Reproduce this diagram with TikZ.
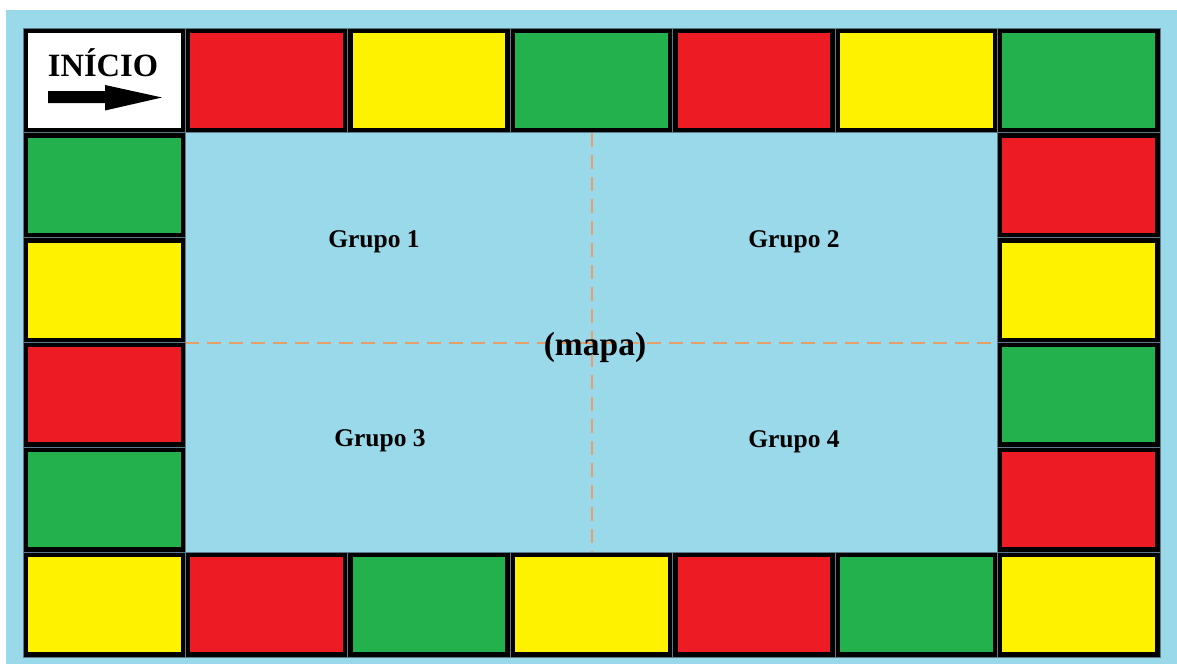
\documentclass[tikz,border=0pt]{standalone}
\usepackage{fontspec}
\setmainfont{Liberation Serif}
\definecolor{bgblue}{RGB}{153,217,234}
\definecolor{cred}{RGB}{237,28,36}
\definecolor{cyellow}{RGB}{255,242,0}
\definecolor{cgreen}{RGB}{34,177,76}
\definecolor{gridline}{RGB}{92,122,138}
\definecolor{dashorange}{RGB}{228,160,104}
\tikzset{
  cell/.style={draw=black, line width=4.5pt, minimum width=157.2pt, minimum height=99.6pt, inner sep=0pt, outer sep=0pt},
  gridbox/.style={draw=gridline, line width=0.9pt},
  guide/.style={draw=dashorange, line width=1.2pt, dash pattern=on 14pt off 8pt},
  grp/.style={font=\fontsize{25.5}{30}\selectfont\bfseries, anchor=base, inner sep=0pt},
}
\begin{document}
\begin{tikzpicture}[x=1pt,y=-1pt]
\useasboundingbox (0,0) rectangle (1177,664);
\fill[white] (0,0) rectangle (1177,664);
\fill[bgblue] (6,10) rectangle (1177,664);
% dashed guides in the map area
\coordinate (vtop) at (592,132.8);
\coordinate (vbot) at (592,552.2);
\coordinate (hl) at (185.4,343);
\coordinate (hr) at (997.6,343);
\draw[guide] (vtop) -- (vbot);
\draw[guide] (hl) -- (hr);
% cells
\foreach \c/\r/\col/\nm in {
  0/0/white/s0, 1/0/cred/s1, 2/0/cyellow/s2, 3/0/cgreen/s3, 4/0/cred/s4, 5/0/cyellow/s5, 6/0/cgreen/s6,
  6/1/cred/s7, 6/2/cyellow/s8, 6/3/cgreen/s9, 6/4/cred/s10, 6/5/cyellow/s11,
  5/5/cgreen/s12, 4/5/cred/s13, 3/5/cyellow/s14, 2/5/cgreen/s15, 1/5/cred/s16, 0/5/cyellow/s17,
  0/4/cgreen/s18, 0/3/cred/s19, 0/2/cyellow/s20, 0/1/cgreen/s21}
{
  \node[cell, fill=\col] (\nm) at ({23+(\c+0.5)*162.43},{28+(\r+0.5)*104.83}) {};
  \draw[gridbox] ({23+\c*162.43},{28+\r*104.83}) rectangle ({23+(\c+1)*162.43},{28+(\r+1)*104.83});
}
% start label and arrow
\node[font=\fontsize{32.5}{38}\selectfont\bfseries, anchor=base, inner sep=0pt] (inicio) at (103,76) {INÍCIO};
\fill[black] (48,91) -- (105,91) -- (105,85) -- (162,97.5) -- (105,110.5) -- (105,103) -- (48,103) -- cycle;
% group labels
\node[grp] (g1) at (374,247) {Grupo 1};
\node[grp] (g2) at (794,247) {Grupo 2};
\node[grp] (g3) at (380,446) {Grupo 3};
\node[grp] (g4) at (794,447) {Grupo 4};
\node[font=\fontsize{33.5}{40}\selectfont\bfseries, anchor=base, inner sep=0pt] (mapa) at (595,355) {(mapa)};
\end{tikzpicture}
\end{document}
